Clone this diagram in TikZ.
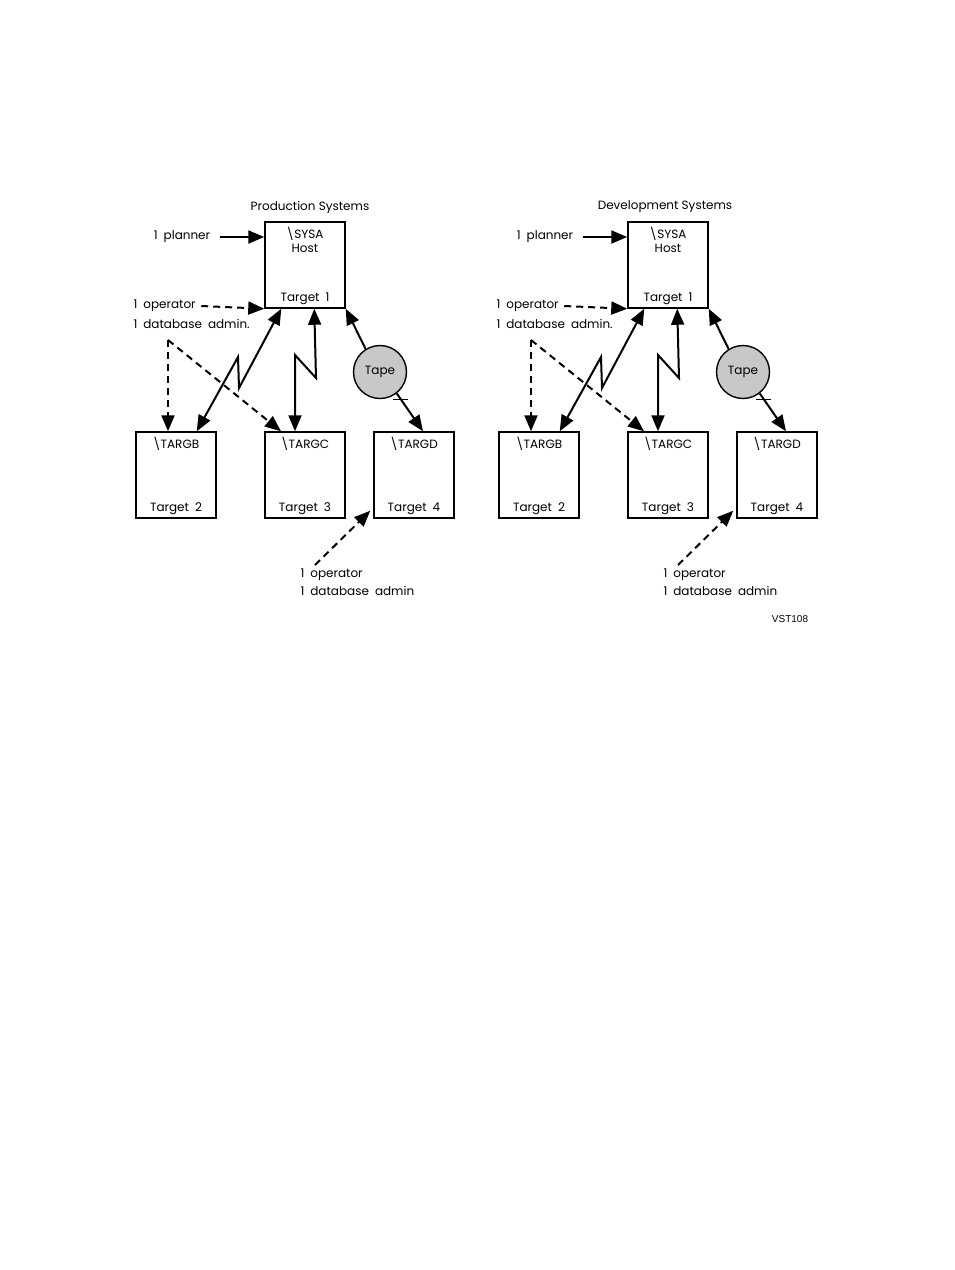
\documentclass[tikz,border=0pt]{standalone}
\usepackage{fontspec}
\setmainfont{Poppins}
\newfontfamily\tagfont{Liberation Sans}
\usetikzlibrary{positioning, arrows.meta}
\definecolor{tapegray}{RGB}{200,200,200}

\tikzset{
  sysbox/.style={draw, line width=1.5pt, minimum width=80pt, minimum height=86pt, inner sep=0pt},
  tapedisk/.style={circle, draw, line width=1.4pt, fill=tapegray, minimum size=53pt, inner sep=0pt},
  conn/.style={line width=2pt, -{Triangle[length=16pt,width=13pt]}},
  dconn/.style={conn, dash pattern=on 7pt off 5pt},
  bothconn/.style={conn, {Triangle[length=16pt,width=13pt]}-{Triangle[length=16pt,width=13pt]}},
}

\begin{document}
\begin{tikzpicture}[x=1pt, y=-1pt, font=\fontsize{12}{14}\selectfont]
  \useasboundingbox (0,0) rectangle (954,1270);

  \foreach \dx/\tx/\p/\title in {0/310/p/Production Systems, 363/302/d/Development Systems}{
  \begin{scope}[xshift=\dx pt]
    % host and its users
    \node (\p title) at (\tx,207) {\title};
    \node[sysbox] (\p host) at (305,265) {};
    \node[below=2pt of \p host.north, align=center] (\p hostname) {\textbackslash SYSA\\Host};
    \node[above=0pt of \p host.south] (\p hostlabel) {Target\enspace 1};
    \node (\p planner) at (182,237) {1\enspace planner};
    \node[anchor=west] (\p oper) at (130,306) {1\enspace operator};
    \node[anchor=west] (\p dba) at (130,324) {1\enspace database\enspace admin.};
    \coordinate (\p fork) at (168,340);

    % targets
    \foreach \n/\N/\x/\k in {b/B/176/2, c/C/305/3, d/D/414/4}{
      \node[sysbox] (\p\n) at (\x,475) {};
      \node[below=2pt of \p\n.north] (\p\n name) {\textbackslash TARG\N};
      \node[above=0pt of \p\n.south] (\p\n label) {Target\enspace \k};
    }

    \node[tapedisk] (\p tape) at (380,372) {Tape};
    \node[anchor=north west, align=left, font=\fontsize{12}{18}\selectfont] (\p crew) at (297,565)
      {1\enspace operator\\1\enspace database\enspace admin};

    % connections
    \draw[conn] ([xshift=6pt]\p planner.east) -- (\p host.west |- \p planner.east);
    \draw[dconn] ([xshift=2pt]\p oper.east) -- (\p host.south west);
    \draw[dconn] (\p fork) -- (\p fork |- \p b.north);
    \draw[dconn] (\p fork) -- ([xshift=-24pt]\p c.north);
    \draw[bothconn] ([xshift=17pt]\p host.south west) -- (239,388) -- (238,357)
      -- ([xshift=-20pt]\p b.north east);
    \draw[bothconn] ([xshift=50pt]\p host.south west) -- (316,378) -- (295,355)
      -- ([xshift=-10pt]\p c.north);
    \draw[conn] (\p tape.122) -- (\p host.south east);
    \draw[conn] (\p tape.-52) -- ([xshift=9pt]\p d.north);
    \draw[line width=1.4pt] ([xshift=13pt]\p tape.south) -- ++(15,0);
    \draw[dconn] ([xshift=18pt]\p crew.north west) -- ([shift={(-3pt,8pt)}]\p d.south west);
  \end{scope}
  }

  \node[font=\tagfont\fontsize{10}{12}\selectfont] (tag) at (790,619) {VST108};
\end{tikzpicture}
\end{document}
